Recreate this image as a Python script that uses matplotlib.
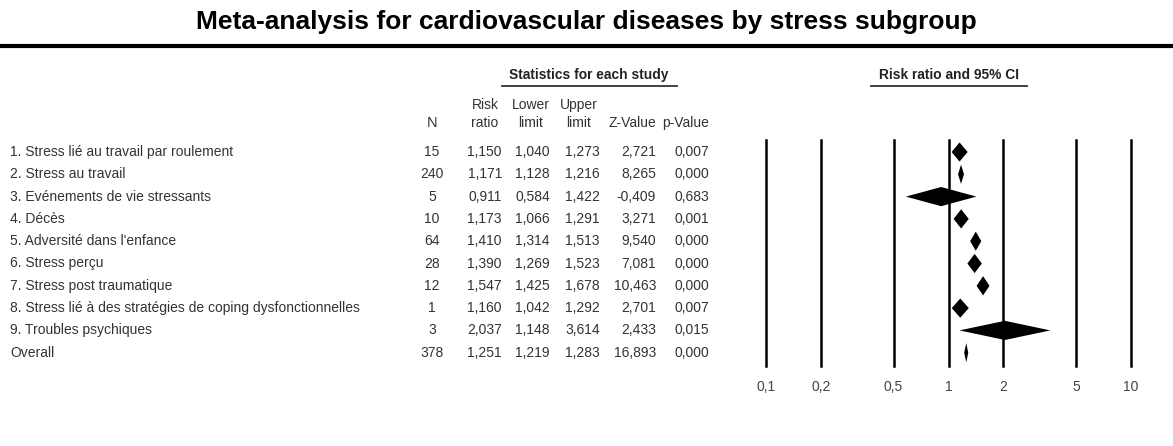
import matplotlib.pyplot as plt

plt.rcParams['font.family'] = ['Liberation Sans', 'DejaVu Sans']

# data
labels = ["1. Stress lié au travail par roulement",
          "2. Stress au travail",
          "3. Evénements de vie stressants",
          "4. Décès",
          "5. Adversité dans l'enfance",
          "6. Stress perçu",
          "7. Stress post traumatique",
          "8. Stress lié à des stratégies de coping dysfonctionnelles",
          "9. Troubles psychiques",
          "Overall"]
n_values = [15, 240, 5, 10, 64, 28, 12, 1, 3, 378]
risk_ratio = [1.150, 1.171, 0.911, 1.173, 1.410, 1.390, 1.547, 1.160, 2.037, 1.251]
lower_limit = [1.040, 1.128, 0.584, 1.066, 1.314, 1.269, 1.425, 1.042, 1.148, 1.219]
upper_limit = [1.273, 1.216, 1.422, 1.291, 1.513, 1.523, 1.678, 1.292, 3.614, 1.283]
z_values = [2.721, 8.265, -0.409, 3.271, 9.540, 7.081, 10.463, 2.701, 2.433, 16.893]
p_values = [0.007, 0.000, 0.683, 0.001, 0.000, 0.000, 0.000, 0.007, 0.015, 0.000]
tick_values = [0.1, 0.2, 0.5, 1, 2, 5, 10]
tick_labels = ["0,1", "0,2", "0,5", "1", "2", "5", "10"]

W, H = 1173, 446
fig = plt.figure(figsize=(W / 100, H / 100), dpi=100)

# overlay axes in pixel units for the table part
ax = fig.add_axes([0, 0, 1, 1])
ax.set_xlim(0, W)
ax.set_ylim(H, 0)
ax.axis('off')

def fmt(v):
    return f"{v:.3f}".replace('.', ',')

txt = '#333333'
fs = 10

ax.text(586, 22, "Meta-analysis for cardiovascular diseases by stress subgroup",
        ha='center', va='center', fontsize=19, fontweight='bold', color='black')
ax.plot([0, W], [45.5, 45.5], color='black', lw=3, solid_capstyle='butt')

ax.text(589, 75, "Statistics for each study", ha='center', va='center',
        fontsize=9.9, fontweight='bold', color='#222222')
ax.plot([502, 677], [86, 86], color='#333333', lw=1.3)
ax.text(949, 75, "Risk ratio and 95% CI", ha='center', va='center',
        fontsize=9.9, fontweight='bold', color='#222222')
ax.plot([871, 1027], [86, 86], color='#333333', lw=1.3)

# column headers
ax.text(432, 123, "N", ha='center', va='center', fontsize=fs + 0.5, color=txt)
headers = [(485, "Risk", "ratio"), (531, "Lower", "limit"), (579, "Upper", "limit")]
for x, top, bot in headers:
    ax.text(x, 105, top, ha='center', va='center', fontsize=fs, color=txt)
    ax.text(x, 123, bot, ha='center', va='center', fontsize=fs, color=txt)
ax.text(656, 123, "Z-Value", ha='right', va='center', fontsize=fs, color=txt)
ax.text(709, 123, "p-Value", ha='right', va='center', fontsize=fs, color=txt)

row0, step = 152, 22.3
for i in range(len(labels)):
    y = row0 + i * step
    ax.text(10, y, labels[i], ha='left', va='center', fontsize=fs, color=txt)
    ax.text(432, y, str(n_values[i]), ha='center', va='center', fontsize=fs, color=txt)
    ax.text(502, y, fmt(risk_ratio[i]), ha='right', va='center', fontsize=fs, color=txt)
    ax.text(550, y, fmt(lower_limit[i]), ha='right', va='center', fontsize=fs, color=txt)
    ax.text(600, y, fmt(upper_limit[i]), ha='right', va='center', fontsize=fs, color=txt)
    ax.text(656, y, fmt(z_values[i]), ha='right', va='center', fontsize=fs, color=txt)
    ax.text(709, y, fmt(p_values[i]), ha='right', va='center', fontsize=fs, color=txt)

# forest plot axes (log scale)
top_px, bot_px = 140, 366
left_px, right_px = 766, 1131
fax = fig.add_axes([left_px / W, 1 - bot_px / H, (right_px - left_px) / W, (bot_px - top_px) / H])
fax.set_xscale('log')
fax.set_xlim(0.1, 10)
fax.set_ylim((bot_px - row0) / step, (top_px - row0) / step)
fax.patch.set_alpha(0)
for s in fax.spines.values():
    s.set_visible(False)
for t in tick_values:
    fax.axvline(t, color='black', lw=1.8, clip_on=False)
fax.set_xticks(tick_values)
fax.set_xticklabels(tick_labels)
fax.xaxis.set_minor_locator(plt.NullLocator())
fax.tick_params(axis='x', length=0, pad=10, labelsize=fs, labelcolor='#444444')
fax.set_yticks([])

h = 0.43
for i in range(len(labels)):
    fax.fill([lower_limit[i], risk_ratio[i], upper_limit[i], risk_ratio[i]],
             [i, i - h, i, i + h], color='black', lw=0, zorder=3)

fig.savefig('out.png', dpi=100)
